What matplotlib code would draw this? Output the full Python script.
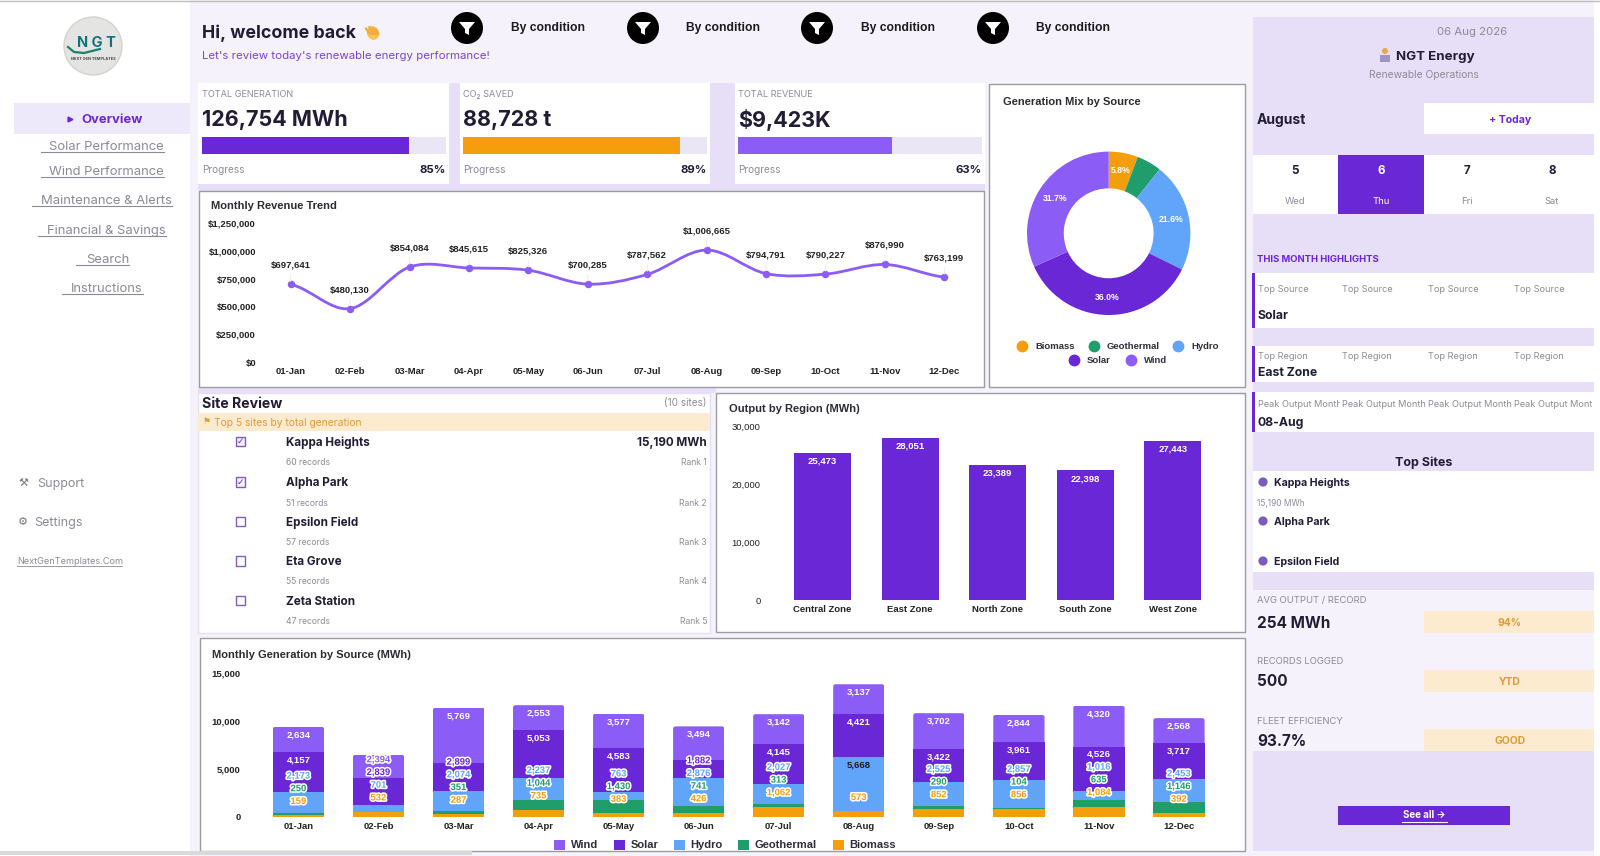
import numpy as np
import matplotlib
matplotlib.use('Agg')
import matplotlib.pyplot as plt
import matplotlib.patches as mpatches
import matplotlib.patheffects as pe
from matplotlib.path import Path

W, H = 1600, 856
UI_FONT = 'Inter'
CHART_FONT = 'Liberation Sans'

# chart data
months = ['01-Jan', '02-Feb', '03-Mar', '04-Apr', '05-May', '06-Jun',
          '07-Jul', '08-Aug', '09-Sep', '10-Oct', '11-Nov', '12-Dec']
revenue = [697641, 480130, 854084, 845615, 825326, 700285,
           787562, 1006665, 794791, 790227, 876990, 763199]
revenue_ticks = [0, 250000, 500000, 750000, 1000000, 1250000]

mix_names = ['Biomass', 'Geothermal', 'Hydro', 'Solar', 'Wind']
mix_values = [5.8, 4.9, 21.6, 36.0, 31.7]

regions = ['Central Zone', 'East Zone', 'North Zone', 'South Zone', 'West Zone']
region_output = [25473, 28051, 23389, 22398, 27443]
region_ticks = [0, 10000, 20000, 30000]

wind = [2634, 2394, 5769, 2553, 3577, 3494, 3142, 3137, 3702, 2844, 4320, 2568]
solar = [4157, 2839, 2899, 5053, 4583, 1882, 4145, 4421, 3422, 3961, 4526, 3717]
hydro = [2173, 701, 2074, 2237, 763, 2876, 2027, 5668, 2525, 2857, 1016, 2453]
geothermal = [250, 0, 351, 1044, 1430, 741, 313, 0, 290, 104, 635, 1146]
biomass = [159, 532, 287, 735, 383, 426, 1062, 573, 852, 856, 1084, 392]
stack_ticks = [0, 5000, 10000, 15000]

# dashboard text
nav_items = ['Solar Performance', 'Wind Performance', 'Maintenance & Alerts',
             'Financial & Savings', 'Search', 'Instructions']
kpi_titles = ['TOTAL GENERATION', 'CO\u2082 SAVED', 'TOTAL REVENUE']
kpi_values = ['126,754 MWh', '88,728 t', '$9,423K']
kpi_progress = [85, 89, 63]
site_names = ['Kappa Heights', 'Alpha Park', 'Epsilon Field', 'Eta Grove', 'Zeta Station']
site_records = [60, 51, 57, 55, 47]
site_checked = [True, True, False, False, False]
days = ['5', '6', '7', '8']
weekdays = ['Wed', 'Thu', 'Fri', 'Sat']

PURPLE = '#6A27D6'
VIOLET = '#8B5CF6'
BLUE = '#60A5FA'
GREEN = '#1F9D6B'
ORANGE = '#F59E0B'
LAVENDER = '#E6DFF7'
PALE = '#F5F2FC'
INK = '#221C35'
GREY = '#8D8A98'
CHART_INK = '#2B2B33'
BORDER = '#9C9CA3'
PEACH = '#FDEBD0'
AMBER = '#E29A35'

fig = plt.figure(figsize=(16, 8.56), dpi=100, facecolor='white')
page = fig.add_axes([0, 0, 1, 1])
page.set_xlim(0, W)
page.set_ylim(H, 0)
page.axis('off')


def box(x0, y0, x1, y1, color, edge=None, lw=0, z=1):
    page.add_patch(mpatches.Rectangle((x0, y0), x1 - x0, y1 - y0, facecolor=color,
                                      edgecolor=edge if edge else 'none', linewidth=lw, zorder=z))


def txt(x, y, s, size, color=INK, weight='normal', ha='left', family=UI_FONT, z=5):
    # centred text sits a little high, Inter more so
    y = y + (2 if family == UI_FONT else 1)
    return page.text(x, y, s, fontsize=size, color=color, fontweight=weight, ha=ha,
                     va='center', family=family, zorder=z)


def px_axes(x0, y0, x1, y1):
    ax = fig.add_axes([x0 / W, 1 - y1 / H, (x1 - x0) / W, (y1 - y0) / H])
    ax.patch.set_alpha(0)
    for s in ax.spines.values():
        s.set_visible(False)
    return ax


# backgrounds
box(190, 0, 1600, 856, PALE, z=0)
box(0, 0, 190, 856, 'white', z=0)
box(1594, 0, 1600, 856, 'white', z=0)
page.plot([0, W], [0.5, 0.5], color='#BDBDBD', lw=1, zorder=2)
box(0, 851, 472, 855, '#D9D9D9', z=6)
box(198, 83, 985, 191, LAVENDER, z=1)
box(198, 387, 716, 393, LAVENDER, z=1)

# sidebar
page.add_patch(mpatches.Circle((93, 46), 29, facecolor='#E4E4E2', edgecolor='#D2D2D0', lw=1, zorder=2))
txt(96, 41, 'N G T', 10.5, color='#11717F', weight='bold', ha='center', z=4)
page.plot([68, 74, 84, 100], [47, 52, 53, 49], color='#1E7F6B', lw=1.6, zorder=3)
txt(93, 57, 'NEXT GEN TEMPLATES', 2.8, color='#444444', weight='bold', ha='center')
box(14, 103, 190, 134, '#EDE9FB', z=1)
page.plot([70], [119], marker='>', color=PURPLE, ms=3.5, zorder=4)
txt(81, 118, 'Overview', 9.4, color=PURPLE, weight='bold')
nav_y = [146, 171, 200, 229.5, 259, 288]
nav_line = [(41, 164), (41, 164), (32, 172), (38, 166), (76, 129), (62, 143)]
for name, y, (a, b) in zip(nav_items, nav_y, nav_line):
    txt(b, y - 1, name, 9.4, color=GREY, ha='right')
    page.plot([a, b], [y + 6, y + 6], color=GREY, lw=0.8, zorder=4)
txt(18, 482, '\u2692', 8, color='#777777', family='DejaVu Sans')
txt(37, 482, 'Support', 9, color=GREY)
txt(18, 521, '\u2699', 8, color='#777777', family='DejaVu Sans')
txt(34, 521, 'Settings', 9, color=GREY)
txt(17, 560, 'NextGenTemplates.Com', 6.6, color=GREY)
page.plot([17, 122], [566, 566], color=GREY, lw=0.6, zorder=4)

# header
txt(202, 31, 'Hi, welcome back', 12.8, weight='bold')
page.add_patch(mpatches.Ellipse((373, 33), 12, 14, angle=-25, facecolor='#F6C453', zorder=4))
for dx in (0, 3.5, 7, 10):
    page.plot([366 + dx, 370 + dx * 0.8], [27 + abs(dx - 4) * 0.4, 34], color='#F0A93B', lw=1.6, zorder=4)
txt(202, 54, "Let's review today's renewable energy performance!", 8.25, color='#7A45D8')
funnel_x = [467, 643, 817, 993]
label_x = [511, 686, 861, 1036]
for fx, lx in zip(funnel_x, label_x):
    page.add_patch(mpatches.Circle((fx, 28), 16, facecolor='black', zorder=3))
    page.add_patch(mpatches.Polygon([(fx - 8, 22), (fx + 8, 22), (fx + 2, 29), (fx + 2, 35),
                                     (fx - 2, 33), (fx - 2, 29)], facecolor='white', zorder=4))
    txt(lx, 27, 'By condition', 8.7, color='#1A1A1A', weight='bold', family=CHART_FONT)

# KPI cards
kpi_box = [(198, 449), (460, 710), (735, 985)]
kpi_bar = [(202, 446), (463, 707), (738, 982)]
kpi_col = [PURPLE, ORANGE, VIOLET]
for i in range(3):
    x0, x1 = kpi_box[i]
    b0, b1 = kpi_bar[i]
    box(x0, 83, x1, 184, 'white', z=2)
    txt(b0, 92, kpi_titles[i], 6.6, color=GREY)
    txt(b0, 118, kpi_values[i], 15.5, weight='bold')
    box(b0, 137, b1, 154, '#EAE6F6', z=3)
    box(b0, 137, b0 + (b1 - b0) * kpi_progress[i] / 100, 154, kpi_col[i], z=4)
    txt(b0, 168, 'Progress', 7.2, color=GREY)
    txt(b1, 168, '%d%%' % kpi_progress[i], 8.2, weight='bold', ha='right')

# panels with charts
box(199, 191, 984, 387, 'white', edge=BORDER, lw=1, z=2)
box(989, 84, 1245, 387, 'white', edge=BORDER, lw=1, z=2)
box(716, 393, 1245, 632, 'white', edge=BORDER, lw=1, z=2)
box(200, 638, 1245, 851, 'white', edge=BORDER, lw=1, z=2)
txt(210.7, 205, 'Monthly Revenue Trend', 8, color=CHART_INK, weight='bold', family=CHART_FONT)
txt(1003, 101, 'Generation Mix by Source', 8, color=CHART_INK, weight='bold', family=CHART_FONT)
txt(729, 408, 'Output by Region (MWh)', 8, color=CHART_INK, weight='bold', family=CHART_FONT)
txt(212, 654, 'Monthly Generation by Source (MWh)', 8, color=CHART_INK, weight='bold', family=CHART_FONT)

# revenue line, smooth curve runs through the monthly values
ax = px_axes(261, 223, 974, 362)
xs = np.arange(len(months))
verts = [(xs[0], revenue[0])]
codes = [Path.MOVETO]
for i in range(len(xs) - 1):
    p0 = revenue[max(i - 1, 0)]
    p1 = revenue[i]
    p2 = revenue[i + 1]
    p3 = revenue[min(i + 2, len(xs) - 1)]
    verts += [(xs[i] + 1 / 3, p1 + (p2 - p0) / 6), (xs[i + 1] - 1 / 3, p2 - (p3 - p1) / 6), (xs[i + 1], p2)]
    codes += [Path.CURVE4, Path.CURVE4, Path.CURVE4]
ax.add_patch(mpatches.PathPatch(Path(verts, codes), fill=False, edgecolor=VIOLET, lw=2))
ax.plot(xs, revenue, 'o', color=VIOLET, ms=4.4)
for x, v in zip(xs, revenue):
    ax.annotate('${:,}'.format(v), (x, v), xytext=(0, 13.7), textcoords='offset points', ha='center',
                va='center', fontsize=6.8, fontweight='bold', color='#222222', family=CHART_FONT)
    ax.annotate('', (x, v), xytext=(0, 9), textcoords='offset points',
                arrowprops=dict(arrowstyle='-', color='#E6E6E6', lw=0.5))
ax.set_xlim(-0.5, 11.5)
ax.set_ylim(0, 1250000)
ax.set_xticks(xs, months)
ax.set_yticks(revenue_ticks, ['${:,}'.format(v) for v in revenue_ticks])
ax.tick_params(length=0, pad=3.6, labelsize=6.8, labelcolor='#222222')
for lab in ax.get_xticklabels() + ax.get_yticklabels():
    lab.set_family(CHART_FONT)
    lab.set_fontweight('bold')

# donut
ax = px_axes(1108.7 - 90, 233.3 - 90, 1108.7 + 90, 233.3 + 90)
ax.pie(mix_values, colors=[ORANGE, GREEN, BLUE, PURPLE, VIOLET], startangle=90, counterclock=False,
       radius=1, wedgeprops=dict(width=0.45, edgecolor='none'), pctdistance=0.78,
       autopct=lambda p: '%.1f%%' % p if p > 5 else '',
       textprops=dict(color='white', fontsize=6.2, fontweight='bold', family=CHART_FONT))
ax.set_xlim(-90 / 81.7, 90 / 81.7)
ax.set_ylim(-90 / 81.7, 90 / 81.7)
leg_pos = [(1022, 346), (1094, 346), (1178, 346), (1074, 360), (1131, 360)]
leg_col = [ORANGE, GREEN, BLUE, PURPLE, VIOLET]
for name, pos, col in zip(mix_names, leg_pos, leg_col):
    page.plot([pos[0]], [pos[1]], 'o', color=col, ms=7.5, zorder=4)
    txt(pos[0] + 13, pos[1] - 1, name, 6.8, color='#2E2E38', family=CHART_FONT, weight='bold')

# output by region
ax = px_axes(778.7, 426.5, 1216.6, 600)
bars = ax.bar(regions, region_output, width=0.65, color=PURPLE)
for b, v in zip(bars, region_output):
    ax.annotate('{:,}'.format(v), (b.get_x() + b.get_width() / 2, v), xytext=(0, -5.8), textcoords='offset points',
                ha='center', va='center', fontsize=6.8, fontweight='bold', color='white', family=CHART_FONT)
ax.set_xlim(-0.5, 4.5)
ax.set_ylim(0, 30000)
ax.set_yticks(region_ticks, ['{:,}'.format(v) for v in region_ticks])
ax.tick_params(length=0, labelsize=6.8, labelcolor='#222222')
ax.tick_params(axis='x', pad=3.6)
ax.tick_params(axis='y', pad=13)
for lab in ax.get_xticklabels() + ax.get_yticklabels():
    lab.set_family(CHART_FONT)
for lab in ax.get_xticklabels():
    lab.set_fontweight('bold')

# monthly stack, drawn from the bottom up
ax = px_axes(258.5, 672.7, 1219, 817)
stack = [('Biomass', biomass, ORANGE), ('Geothermal', geothermal, GREEN), ('Hydro', hydro, BLUE),
         ('Solar', solar, PURPLE), ('Wind', wind, VIOLET)]
base = np.zeros(len(months))
handles = {}
for name, vals, col in stack:
    handles[name] = ax.bar(xs, vals, bottom=base, width=0.64, color=col, label=name)
    base = base + np.array(vals)
ax.set_xlim(-0.5, 11.5)
ax.set_ylim(0, 15000)
unit = 15000 / (817 - 672.7)  # MWh per pixel

# round the top corners of the stack
for p, total in zip(handles['Wind'], base):
    clip = mpatches.FancyBboxPatch((p.get_x(), 0), p.get_width(), total,
                                   boxstyle='round,pad=0,rounding_size=0.03',
                                   mutation_aspect=unit * 80, transform=ax.transData)
    p.set_clip_path(clip)

for i in xs:
    base_i = 0
    prev = None
    for name, vals, col in stack:
        v = vals[i]
        top = base_i + v
        base_i = top
        if v == 0:
            continue
        # labels sit inside the segment top, crowded ones get pushed upward
        if prev is None:
            y = top + 14 * unit
            crowded = True
        else:
            want = top - 8 * unit
            y = max(want, prev + 12.7 * unit)
            crowded = y > want + unit
        prev = y
        if crowded:
            t = ax.text(i, y, '{:,}'.format(v), ha='center', va='center', fontsize=6.8, fontweight='bold',
                        color=col, family=CHART_FONT, zorder=6)
            t.set_path_effects([pe.withStroke(linewidth=2.2, foreground='white')])
        else:
            ax.text(i, y, '{:,}'.format(v), ha='center', va='center', fontsize=6.8, fontweight='bold',
                    color='#1A1A1A' if name == 'Hydro' else 'white', family=CHART_FONT, zorder=6)
ax.set_xticks(xs, months)
ax.set_yticks(stack_ticks, ['{:,}'.format(v) for v in stack_ticks])
ax.tick_params(length=0, labelsize=6.8, labelcolor='#222222')
ax.tick_params(axis='x', pad=3.6)
ax.tick_params(axis='y', pad=13)
for lab in ax.get_xticklabels() + ax.get_yticklabels():
    lab.set_family(CHART_FONT)
    lab.set_fontweight('bold')
order = ['Wind', 'Solar', 'Hydro', 'Geothermal', 'Biomass']
ax.legend([handles[n] for n in order], order, loc='center', bbox_to_anchor=(725, 845),
          bbox_transform=page.transData, ncols=5, frameon=False, handlelength=1, handleheight=1,
          columnspacing=1.4, handletextpad=0.5, prop=dict(family=CHART_FONT, size=8, weight='bold'),
          labelcolor='#2E2E38')

# site review
box(198, 393, 710, 633, 'white', edge=LAVENDER, lw=1, z=2)
txt(202, 402, 'Site Review', 10.2, weight='bold')
txt(707, 401, '(10 sites)', 7.2, color=GREY, ha='right')
box(198, 413, 710, 431, PEACH, z=3)
txt(202, 420, '\u2691', 6.5, color=AMBER, family='DejaVu Sans')
txt(214, 421, 'Top 5 sites by total generation', 7.4, color=AMBER)
row_y = [441.7, 482, 521.7, 561, 600.7]
for i, y in enumerate(row_y):
    page.add_patch(mpatches.Rectangle((236, y - 4.7), 9.4, 9.4, facecolor='#F4F0FC' if site_checked[i] else 'white',
                                      edgecolor='#7F5DBE', lw=1, zorder=4))
    if site_checked[i]:
        txt(240.7, y - 1, '\u2713', 6.5, color='#6A27D6', ha='center', family='DejaVu Sans')
    txt(285.7, y - 1, site_names[i], 8.4, weight='bold')
    txt(285.7, y + 19, '%d records' % site_records[i], 6.2, color=GREY)
    txt(707, y + 19, 'Rank %d' % (i + 1), 6.2, color=GREY, ha='right')
txt(707, 440.7, '15,190 MWh', 8.4, weight='bold', ha='right')

# right column
box(1253, 17, 1594, 851, LAVENDER, z=1)
txt(1472, 30, '06 Aug 2026', 8.2, color=GREY, ha='center')
page.add_patch(mpatches.Circle((1385, 51), 3, facecolor='#E9A94B', zorder=4))
box(1380, 54.5, 1390, 62, '#9C94C4', z=4)
txt(1435, 55, 'NGT Energy', 9.6, weight='bold', ha='center')
txt(1424, 73, 'Renewable Operations', 7.4, color=GREY, ha='center')
txt(1257, 118, 'August', 10, weight='bold')
box(1424, 103, 1594, 134, 'white', z=2)
txt(1510, 118, '+ Today', 7.6, color=PURPLE, weight='bold', ha='center')
cells = [1253, 1338, 1424, 1510, 1594]
for i in range(4):
    active = i == 1
    box(cells[i], 155, cells[i + 1], 214, PURPLE if active else 'white', z=2)
    mid = (cells[i] + cells[i + 1]) / 2
    txt(mid, 169, days[i], 8.4, color='white' if active else INK, weight='bold', ha='center')
    txt(mid, 199, weekdays[i], 6.8, color='white' if active else GREY, ha='center')
txt(1257, 258, 'THIS MONTH HIGHLIGHTS', 6.8, color=PURPLE, weight='bold')

highlight = [(273, 328, 289, 315, 'Top Source', 'Solar'),
             (346, 382, 355, 372, 'Top Region', 'East Zone'),
             (392, 432, 403, 422, 'Peak Output Month', '08-Aug')]
label_cols = [1258, 1342, 1428, 1514, 1594]
for y0, y1, ly, vy, label, value in highlight:
    box(1253, y0, 1594, y1, 'white', z=2)
    box(1252, y0, 1255, y1, PURPLE, z=3)
    for c in range(4):
        t = txt(label_cols[c], ly - 1, label, 6.6, color=GREY)
        # each column cuts its label off at the cell edge
        t.set_clip_on(True)
        t.set_clip_path(mpatches.Rectangle((label_cols[c], y0), label_cols[c + 1] - label_cols[c] - 2,
                                           y1 - y0, transform=page.transData))
    txt(1258, vy - 1, value, 8.8, weight='bold')

txt(1424, 461, 'Top Sites', 9, weight='bold', ha='center')
box(1253, 471, 1594, 572, 'white', z=2)
top_names = ['Kappa Heights', 'Alpha Park', 'Epsilon Field']
top_y = [482, 521, 561]
for name, y in zip(top_names, top_y):
    page.add_patch(mpatches.Circle((1263, y), 4.6, facecolor='#7A5BC0', zorder=4))
    txt(1274, y - 1, name, 7.6, weight='bold')
txt(1257, 501, '15,190 MWh', 6, color=GREY)

box(1253, 590, 1594, 751, PALE, z=2)
stat_labels = ['AVG OUTPUT / RECORD', 'RECORDS LOGGED', 'FLEET EFFICIENCY']
stat_values = ['254 MWh', '500', '93.7%']
stat_badges = ['94%', 'YTD', 'GOOD']
stat_y = [(600, 622, 611, 633), (661, 681, 670, 692), (720, 740, 729, 751)]
for lab, val, badge, (ly, vy, b0, b1) in zip(stat_labels, stat_values, stat_badges, stat_y):
    txt(1257, ly - 1, lab, 6.8, color=GREY)
    txt(1257, vy - 1, val, 11, weight='bold')
    box(1424, b0, 1594, b1, PEACH, z=3)
    txt(1510, (b0 + b1) / 2 - 1, badge, 7.4, color=AMBER, weight='bold', ha='center')

box(1338, 806, 1510, 825, PURPLE, z=2)
txt(1424, 813.5, 'See all \u2192', 7, color='white', weight='bold', ha='center')
page.plot([1402, 1447], [822, 822], color='white', lw=0.8, zorder=5)

fig.savefig('out.png', dpi=100)
